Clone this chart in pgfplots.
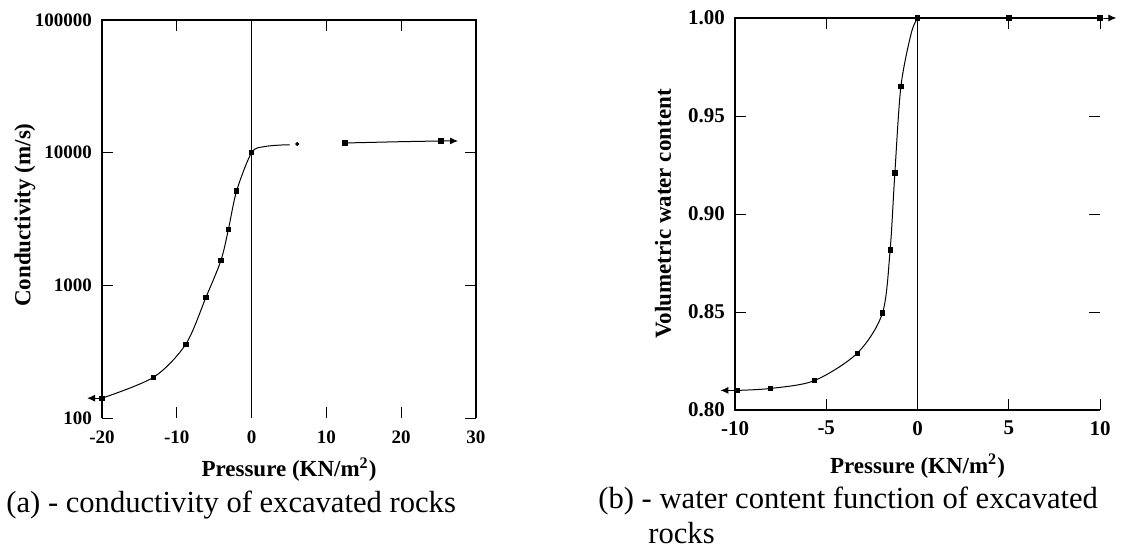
\documentclass[border=0pt]{standalone}
\usepackage{pgfplots}
\pgfplotsset{compat=1.18}
\usetikzlibrary{arrows.meta}
\usepackage{fontspec}
\setmainfont{Liberation Serif}

\pgfplotsset{
  panel/.style={
    scale only axis, clip=false,
    axis line style={draw=none},
    tick align=inside, major tick length=5.5pt,
    tick style={black, line width=0.5pt},
    minor tick style={draw=none},
    /pgf/number format/assume math mode=true,
    label style={font=\bfseries\fontsize{11.5}{13}\selectfont},
    extra x ticks={0}, extra x tick labels={},
    extra x tick style={grid=major, major grid style={black, line width=0.8pt}},
  },
  curve/.style={black, line width=0.5pt, no markers},
  pts/.style={only marks, mark=square*, mark size=1.1pt, black},
}

\begin{document}
\begin{tikzpicture}
\path[use as bounding box] (-51pt,-68pt) rectangle (512pt,209pt);

% (a) conductivity
\begin{axis}[panel, at={(0pt,0pt)}, anchor=south west, width=187pt, height=199pt,
  xmin=-20, xmax=30, ymode=log, ymin=100, ymax=100000,
  xtick={-20,-10,0,10,20,30},
  ytick={100,1000,10000,100000}, yticklabels={100,1000,10000,100000},
  xticklabel style={font=\bfseries\fontsize{9.5}{11}\selectfont, yshift=-3pt},
  yticklabel style={font=\bfseries\fontsize{9.5}{11}\selectfont, xshift=-1.5pt},
  xlabel={Pressure (KN/m\textsuperscript{2})},
  ylabel={Conductivity (m/s)},
  xlabel style={at={(axis description cs:0.5,-0.148)}, anchor=base},
  ylabel style={at={(axis description cs:-0.206,0.51)}, anchor=center},
]
\addplot[curve, smooth] coordinates {
  (-20,141) (-13.1,203) (-8.8,360) (-6.1,813) (-4.1,1540) (-3.1,2640)
  (-2.0,5160) (0,10000) (1.7,11100) (4.1,11430) (5.1,11450)};
\addplot[curve, -{Latex[length=4pt,width=3.5pt]}] coordinates {(-20,141) (-22,141)};
\addplot[curve, -{Latex[length=4pt,width=3.5pt]}] coordinates {(12.5,11830) (20,12100) (25.3,12250) (27.6,12250)};
\addplot[pts] coordinates {
  (-20,141) (-13.1,203) (-8.8,360) (-6.1,813) (-4.1,1540) (-3.1,2640)
  (-2.0,5160) (0,10000) (12.5,11830) (25.3,12250)};
\addplot[only marks, mark=*, mark size=0.8pt, black] coordinates {(6.1,11620)};
\draw[line width=0.8pt] (rel axis cs:0,0) -- (rel axis cs:0,1) -- (rel axis cs:1,1) -- (rel axis cs:1,0);
\end{axis}

% (b) water content
\begin{axis}[panel, at={(316.5pt,4pt)}, anchor=south west, width=182.5pt, height=196pt,
  xmin=-10, xmax=10, ymin=0.80, ymax=1.00,
  xtick={-10,-5,0,5,10},
  ytick={0.80,0.85,0.90,0.95,1.00},
  xticklabel style={font=\bfseries\fontsize{10.5}{12}\selectfont, yshift=-2pt},
  yticklabel style={font=\bfseries\fontsize{10.5}{12}\selectfont, xshift=-1.5pt,
    /pgf/number format/.cd, fixed, fixed zerofill, precision=2},
  xlabel={Pressure (KN/m\textsuperscript{2})},
  ylabel={Volumetric water content},
  xlabel style={at={(axis description cs:0.5,-0.161)}, anchor=base},
  ylabel style={at={(axis description cs:-0.197,0.5)}, anchor=center},
]
\addplot[curve, smooth] coordinates {
  (-9.9,0.810) (-8.05,0.811) (-5.65,0.815) (-3.3,0.829) (-1.92,0.8495)
  (-1.5,0.8816) (-1.24,0.921) (-0.91,0.965) (-0.35,0.992) (0,1.0)};
\addplot[curve, -{Latex[length=4pt,width=3.5pt]}] coordinates {(-9.9,0.810) (-10.8,0.810)};
\addplot[curve, -{Latex[length=4pt,width=3.5pt]}] coordinates {(0,1.0) (5,1.0) (10,1.0) (10.9,1.0)};
\addplot[black, line width=1.4pt] coordinates {(0,1.0) (4.2,1.0)};
\addplot[pts] coordinates {
  (-9.9,0.810) (-8.05,0.811) (-5.65,0.815) (-3.3,0.829) (-1.92,0.8495)
  (-1.5,0.8816) (-1.24,0.921) (-0.91,0.965) (0,1.0) (5,1.0) (10,1.0)};
\draw[line width=0.8pt] (rel axis cs:1,1) -- (rel axis cs:0,1) -- (rel axis cs:0,0) -- (rel axis cs:1,0);
\end{axis}

\node[anchor=base west, inner sep=0pt, font=\fontsize{15.3}{18}\selectfont] at (-48pt,-47pt)
  {(a) - conductivity of excavated rocks};
\node[anchor=base west, inner sep=0pt, font=\fontsize{15.3}{18}\selectfont] at (248pt,-45pt)
  {(b) - water content function of excavated};
\node[anchor=base west, inner sep=0pt, font=\fontsize{15.3}{18}\selectfont] at (273pt,-62.5pt)
  {rocks};
\end{tikzpicture}
\end{document}
